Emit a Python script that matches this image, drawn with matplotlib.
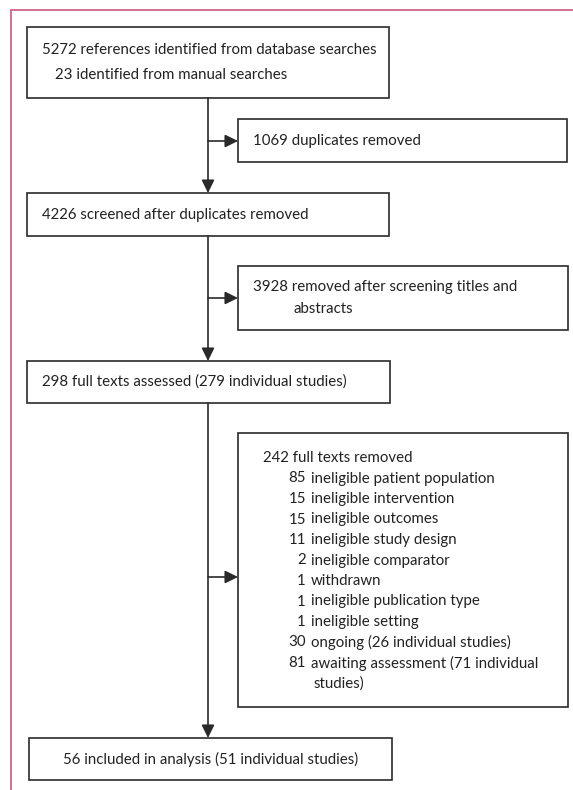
#!/usr/bin/env python
# coding: utf-8

r"""Study selection flow chart
    main column : records kept at each step
    side boxes  : records removed
"""
from matplotlib import pyplot as plt
from matplotlib.patches import Rectangle

# main column boxes (text lines)
main_texts = [["5272 references identified from database searches",
               "23 identified from manual searches"],
              ["4226 screened after duplicates removed"],
              ["298 full texts assessed (279 individual studies)"],
              ["56 included in analysis (51 individual studies)"]]

# side boxes (text lines)
side_texts = [["1069 duplicates removed"],
              ["3928 removed after screening titles and",
               "abstracts"]]

# exclusion reasons in the big side box
removed_head = "242 full texts removed"
removed_counts = ["85", "15", "15", "11", "2", "1", "1", "1", "30", "81", ""]
removed_labels = ["ineligible patient population",
                  "ineligible intervention",
                  "ineligible outcomes",
                  "ineligible study design",
                  "ineligible comparator",
                  "withdrawn",
                  "ineligible publication type",
                  "ineligible setting",
                  "ongoing (26 individual studies)",
                  "awaiting assessment (71 individual",
                  "studies)"]

# layout in pixels (x0, y0, x1, y1)
main_boxes = [(27, 27, 389, 98), (27, 193, 389, 236),
              (27, 361, 390, 403), (29, 738, 392, 780)]
main_indents = [[15, 28], [15], [15], [None]]
side_boxes = [(238, 119, 567, 162), (238, 266, 568, 330)]
side_indents = [[15], [15, 55]]
removed_box = (238, 433, 568, 707)
x_line = 208

line_color = '#2a2a2a'
text_color = '#222222'
font = dict(family='Lato', size=10.8, color=text_color)


def draw_box(axes, box, lw=1.2):
    x0, y0, x1, y1 = box
    axes.add_patch(Rectangle((x0, y0), x1 - x0, y1 - y0, fill=False,
                             edgecolor=line_color, linewidth=lw))


def arrow(axes, start, end):
    axes.annotate('', xy=end, xytext=start,
                  arrowprops=dict(arrowstyle='-|>,head_length=0.65,'
                                             'head_width=0.32',
                                  mutation_scale=12, color=line_color,
                                  lw=1.2, shrinkA=0, shrinkB=0))


figure = plt.figure(figsize=(5.73, 7.90), dpi=100)
axes = figure.add_axes([0, 0, 1, 1])
axes.set_xlim(0, 573)
axes.set_ylim(790, 0)
axes.axis('off')

# pink frame
pink = '#d6708f'
axes.plot([10.5, 10.5, 573], [790, 10, 10], color=pink, lw=1.4,
          solid_capstyle='butt', solid_joinstyle='miter')

# main boxes
for box, lines, indents in zip(main_boxes, main_texts, main_indents):
    draw_box(axes, box)
    x0, y0, x1, y1 = box
    yc = (y0 + y1) / 2. - (len(lines) - 1) * 25 / 2.
    for k, (line, ind) in enumerate(zip(lines, indents)):
        if ind is None:
            axes.text((x0 + x1) / 2., yc + k * 25, line, ha='center',
                      va='center', **font)
        else:
            axes.text(x0 + ind, yc + k * 25, line, ha='left',
                      va='center', **font)

# side boxes
for box, lines, indents in zip(side_boxes, side_texts, side_indents):
    draw_box(axes, box)
    x0, y0, x1, y1 = box
    yc = (y0 + y1) / 2. - (len(lines) - 1) * 22 / 2.
    for k, (line, ind) in enumerate(zip(lines, indents)):
        axes.text(x0 + ind, yc + k * 22, line, ha='left', va='center', **font)

# removed box
line_step = 20.5
draw_box(axes, removed_box)
x0, y0, x1, y1 = removed_box
axes.text(x0 + 25, y0 + 25, removed_head, ha='left', va='center', **font)
for k, (n, label) in enumerate(zip(removed_counts, removed_labels)):
    y = y0 + 25 + (k + 1) * line_step
    axes.text(x0 + 68, y, n, ha='right', va='center', **font)
    xl = x0 + 73 if n else x0 + 76
    axes.text(xl, y, label, ha='left', va='center', **font)

# vertical flow with arrows
arrow(axes, (x_line, main_boxes[0][3]), (x_line, main_boxes[1][1]))
arrow(axes, (x_line, main_boxes[1][3]), (x_line, main_boxes[2][1]))
arrow(axes, (x_line, main_boxes[2][3]), (x_line, main_boxes[3][1]))

# branches to side boxes
for box, yb in zip(side_boxes + [removed_box], [141, 298, 577]):
    arrow(axes, (x_line, yb), (box[0], yb))

figure.savefig('out.png', dpi=100)
